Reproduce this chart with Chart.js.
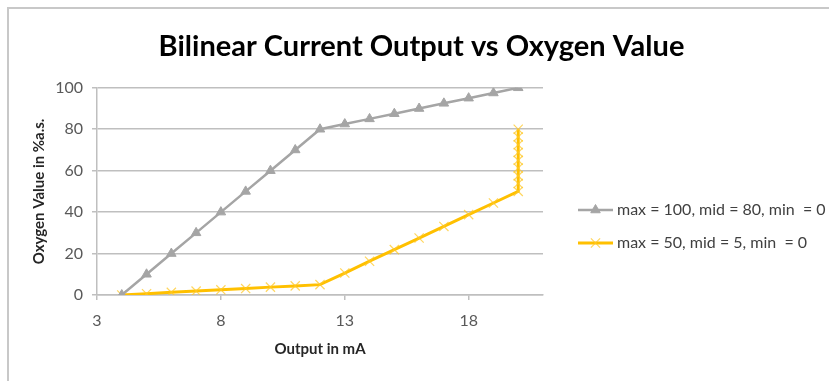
<!DOCTYPE html>
<html>
<head>
<meta charset="utf-8">
<script src="https://cdn.jsdelivr.net/npm/chart.js@4.4.1/dist/chart.umd.min.js"></script>
<style>
html,body{margin:0;padding:0;background:#fff;}
#wrap{position:relative;width:829px;height:381px;}
</style>
</head>
<body>
<div id="wrap"><canvas id="c" width="829" height="381"></canvas></div>
<script>
// ---- data ----
const chartTitle = 'Bilinear Current Output vs Oxygen Value';
const xAxisTitle = 'Output in mA';
const yAxisTitle = 'Oxygen Value in %a.s.';
const xTicks = [3, 8, 13, 18];
const yTicks = [0, 20, 40, 60, 80, 100];
const currentMA = [4, 5, 6, 7, 8, 9, 10, 11, 12, 13, 14, 15, 16, 17, 18, 19, 20];
const seriesAName = 'max = 100, mid = 80, min  = 0';
const seriesAValues = [0, 10, 20, 30, 40, 50, 60, 70, 80, 82.5, 85, 87.5, 90, 92.5, 95, 97.5, 100];
const seriesBName = 'max = 50, mid = 5, min  = 0';
const seriesBValues = [0, 0.6, 1.3, 1.9, 2.5, 3.1, 3.8, 4.4, 5, 10.6, 16.3, 21.9, 27.5, 33.1, 38.8, 44.4, 50];
const seriesBClampCurrent = [20, 20, 20, 20, 20, 20, 20, 20];
const seriesBClampValues = [53.8, 57.5, 61.3, 65, 68.8, 72.5, 76.3, 80];

const FONT = 'Lato, "Open Sans", sans-serif';
const grayCol = '#a5a5a5';
const yellowCol = '#ffc000';

const dataA = currentMA.map((x, i) => ({x: x, y: seriesAValues[i]}));
const dataB = currentMA.map((x, i) => ({x: x, y: seriesBValues[i]}))
  .concat(seriesBClampCurrent.map((x, i) => ({x: x, y: seriesBClampValues[i]})));

const framePlugin = {
  id: 'frame',
  beforeDraw(chart) {
    const ctx = chart.ctx;
    ctx.save();
    ctx.strokeStyle = '#c8c8c8';
    ctx.lineWidth = 2;
    ctx.beginPath();
    ctx.moveTo(8, 381);
    ctx.lineTo(8, 8);
    ctx.lineTo(829, 8);
    ctx.stroke();
    ctx.restore();
  }
};

const legendPlugin = {
  id: 'customLegend',
  afterDraw(chart) {
    const ctx = chart.ctx;
    const x0 = 578, x1 = 613, tx = 617;
    const ys = [210, 243];
    chart.data.datasets.forEach((ds, i) => {
      const y = ys[i];
      ctx.save();
      ctx.strokeStyle = ds.borderColor;
      ctx.lineWidth = ds.borderWidth;
      ctx.beginPath();
      ctx.moveTo(x0, y);
      ctx.lineTo(x1, y);
      ctx.stroke();
      ctx.fillStyle = ds.pointBackgroundColor;
      ctx.strokeStyle = ds.pointBorderColor;
      ctx.lineWidth = ds.pointBorderWidth;
      Chart.helpers.drawPoint(ctx, {
        pointStyle: ds.pointStyle,
        radius: ds.pointRadius,
        borderWidth: ds.pointBorderWidth,
        rotation: 0
      }, (x0 + x1) / 2, y);
      ctx.fillStyle = '#404040';
      ctx.font = '16px ' + FONT;
      ctx.textBaseline = 'middle';
      ctx.textAlign = 'left';
      ctx.fillText(ds.label, tx, y);
      ctx.restore();
    });
  }
};

new Chart(document.getElementById('c'), {
  type: 'scatter',
  data: {
    datasets: [
      {
        label: seriesAName,
        data: dataA,
        showLine: true,
        borderColor: grayCol,
        borderWidth: 2.5,
        pointStyle: 'triangle',
        pointRadius: 5.5,
        pointBackgroundColor: grayCol,
        pointBorderColor: grayCol,
        pointBorderWidth: 1,
        tension: 0
      },
      {
        label: seriesBName,
        data: dataB,
        showLine: true,
        borderColor: yellowCol,
        borderWidth: 3,
        pointStyle: 'crossRot',
        pointRadius: 6.5,
        pointBackgroundColor: 'rgba(255,200,40,0.75)',
        pointBorderColor: 'rgba(255,200,40,0.75)',
        pointBorderWidth: 1.2,
        tension: 0
      }
    ]
  },
  options: {
    responsive: false,
    animation: false,
    events: [],
    layout: { padding: { left: 14, right: 0, top: 0, bottom: 0 } },
    plugins: {
      legend: { display: false },
      tooltip: { enabled: false },
      title: {
        display: true,
        text: chartTitle,
        color: '#000',
        font: { family: FONT, size: 29, weight: 'bold' },
        padding: { top: 29, bottom: 24 }
      }
    },
    scales: {
      x: {
        type: 'linear',
        min: 3,
        max: 21,
        afterBuildTicks(axis) { axis.ticks = xTicks.map(v => ({value: v})); },
        afterFit(scale) { scale.height = 86; },
        grid: { drawOnChartArea: false, drawTicks: true, tickLength: 5, color: '#bfbfbf', lineWidth: 1.5 },
        border: { color: '#bfbfbf', width: 1.5 },
        ticks: { color: '#595959', font: { family: FONT, size: 16 }, padding: 11 },
        title: { display: true, text: xAxisTitle, color: '#262626', font: { family: FONT, size: 15, weight: 'bold' }, padding: { top: 0, bottom: 23 } }
      },
      y: {
        type: 'linear',
        min: 0,
        max: 100,
        afterBuildTicks(axis) { axis.ticks = yTicks.map(v => ({value: v})); },
        afterFit(scale) { scale.width = 83; },
        grid: { color: '#bfbfbf', lineWidth: 1.5, tickLength: 5 },
        border: { color: '#bfbfbf', width: 1.5 },
        ticks: { color: '#595959', font: { family: FONT, size: 16 }, padding: 9 },
        title: { display: true, text: yAxisTitle, color: '#262626', font: { family: FONT, size: 15, weight: 'bold' }, padding: { top: 16, bottom: 0 } }
      },
      legendSpace: {
        type: 'linear',
        position: 'right',
        display: true,
        min: 0,
        max: 1,
        afterFit(scale) { scale.width = 286; },
        grid: { display: false },
        border: { display: false },
        ticks: { display: false }
      }
    }
  },
  plugins: [framePlugin, legendPlugin]
});
</script>
</body>
</html>
